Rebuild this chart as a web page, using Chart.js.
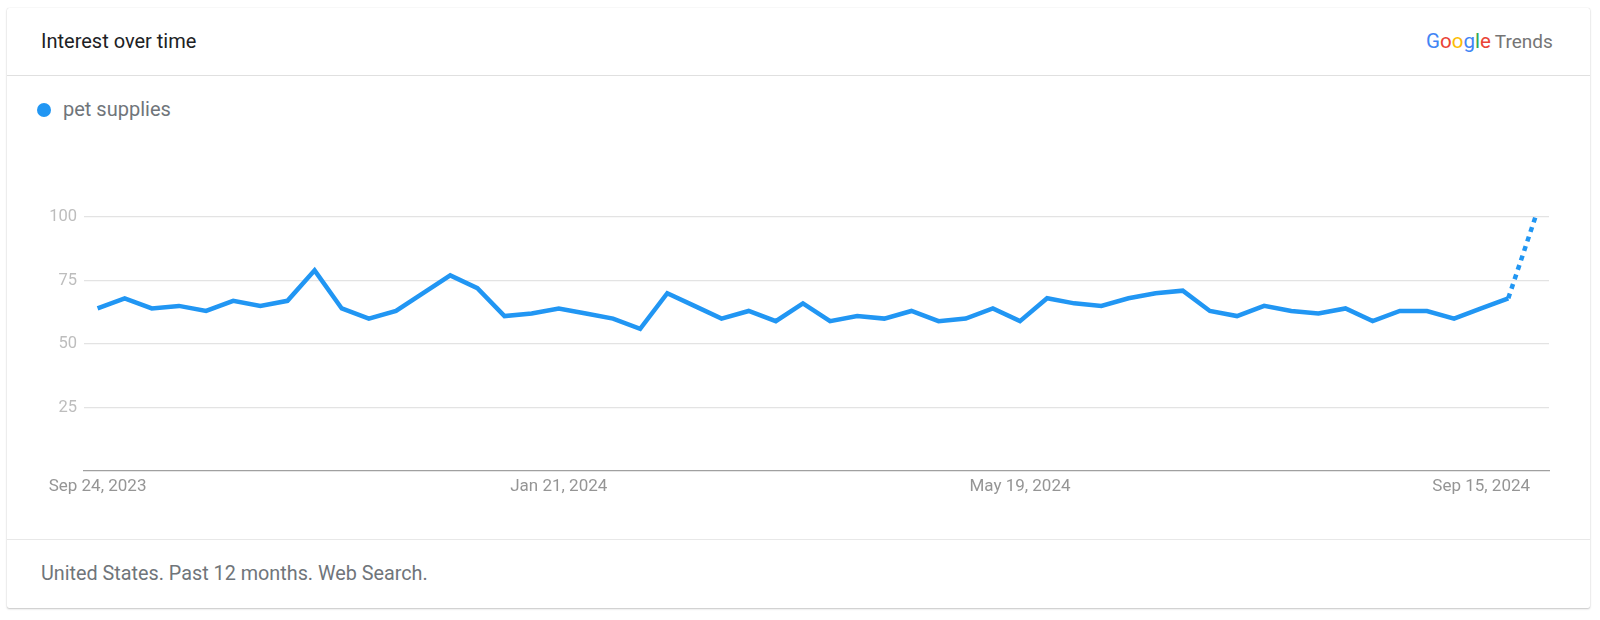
<!DOCTYPE html>
<html>
<head>
<meta charset="utf-8">
<script src="https://cdn.jsdelivr.net/npm/chart.js@4.4.1/dist/chart.umd.min.js"></script>
<style>
  html, body { margin: 0; padding: 0; background: #fff; width: 1600px; height: 620px; overflow: hidden; font-family: Roboto, "Noto Sans", Arial, sans-serif; }
  .card { position: absolute; left: 7px; top: 8px; width: 1583px; height: 600px; background: #fff; border-radius: 2px;
          box-shadow: 0 1px 2px rgba(0,0,0,0.22), 0 0 1px rgba(0,0,0,0.18); }
  .title { position: absolute; left: 41px; top: 29px; font-size: 20px; color: #202124; line-height: 24px; }
  .logo { position: absolute; left: 1426px; top: 29px; font-size: 20.5px; line-height: 24px; white-space: nowrap; }
  .logo .t { color: #757575; margin-left: 4px; font-size: 19px; }
  .div1 { position: absolute; left: 7px; width: 1583px; top: 75px; height: 1px; background: #e0e0e0; }
  .div2 { position: absolute; left: 7px; width: 1583px; top: 539px; height: 1px; background: #e8e8e8; }
  .legend { position: absolute; left: 37px; top: 97px; font-size: 20px; color: #70757a; line-height: 24px; }
  .legend .dot { display: inline-block; width: 14px; height: 14px; border-radius: 50%; background: #2196F3; vertical-align: -1px; margin-right: 12px; }
  .footer { position: absolute; left: 41px; top: 562px; font-size: 19.8px; color: #70757a; line-height: 24px; }
  #wrap { position: absolute; left: 0; top: 0; width: 1600px; height: 620px; }
</style>
</head>
<body>
<div class="card"></div>
<div class="title">Interest over time</div>
<div class="logo"><span style="color:#4285F4">G</span><span style="color:#EA4335">o</span><span style="color:#FBBC05">o</span><span style="color:#4285F4">g</span><span style="color:#34A853">l</span><span style="color:#EA4335">e</span><span class="t">Trends</span></div>
<div class="div1"></div>
<div class="legend"><span class="dot"></span>pet supplies</div>
<div class="div2"></div>
<div class="footer">United States. Past 12 months. Web Search.</div>
<div id="wrap"><canvas id="c"></canvas></div>
<script>
const seriesName = "pet supplies";
const weeks = [
  "Sep 24, 2023","Oct 1, 2023","Oct 8, 2023","Oct 15, 2023","Oct 22, 2023","Oct 29, 2023",
  "Nov 5, 2023","Nov 12, 2023","Nov 19, 2023","Nov 26, 2023","Dec 3, 2023","Dec 10, 2023",
  "Dec 17, 2023","Dec 24, 2023","Dec 31, 2023","Jan 7, 2024","Jan 14, 2024","Jan 21, 2024",
  "Jan 28, 2024","Feb 4, 2024","Feb 11, 2024","Feb 18, 2024","Feb 25, 2024","Mar 3, 2024",
  "Mar 10, 2024","Mar 17, 2024","Mar 24, 2024","Mar 31, 2024","Apr 7, 2024","Apr 14, 2024",
  "Apr 21, 2024","Apr 28, 2024","May 5, 2024","May 12, 2024","May 19, 2024","May 26, 2024",
  "Jun 2, 2024","Jun 9, 2024","Jun 16, 2024","Jun 23, 2024","Jun 30, 2024","Jul 7, 2024",
  "Jul 14, 2024","Jul 21, 2024","Jul 28, 2024","Aug 4, 2024","Aug 11, 2024","Aug 18, 2024",
  "Aug 25, 2024","Sep 1, 2024","Sep 8, 2024","Sep 15, 2024","Sep 22, 2024","Sep 29, 2024"
];
const interest = [
  64,68,64,65,63,67,65,67,79,64,
  60,63,70,77,72,61,62,64,62,60,
  56,70,65,60,63,59,66,59,61,60,
  63,59,60,64,59,68,66,65,68,70,
  71,63,61,65,63,62,64,59,63,63,
  60,64,68,100
];
const xTickLabels = ["Sep 24, 2023","Jan 21, 2024","May 19, 2024","Sep 15, 2024"];
const yTicks = [25, 50, 75, 100];
const partialFrom = interest.length - 1; // last point is partial data

const lineColor = "#2196F3";
new Chart(document.getElementById("c"), {
  type: "line",
  data: {
    labels: weeks,
    datasets: [{
      label: seriesName,
      data: interest,
      borderColor: lineColor,
      borderWidth: 4.5,
      pointRadius: 0,
      tension: 0,
      fill: false,
      clip: false,
      borderJoinStyle: "miter",
      segment: {
        borderDash: ctx => ctx.p1DataIndex >= partialFrom ? [5, 5] : undefined
      }
    }]
  },
  options: {
    responsive: true,
    maintainAspectRatio: false,
    animation: false,
    events: [],
    layout: { padding: { top: 217, right: 51, bottom: 119, left: 0 } },
    plugins: { legend: { display: false }, tooltip: { enabled: false } },
    scales: {
      x: {
        type: "category",
        offset: true,
        grid: { display: false, drawTicks: false },
        border: { display: true, color: "#a0a0a0", width: 1.3 },
        afterFit: s => { s.height = 30; },
        ticks: {
          autoSkip: false, maxRotation: 0, minRotation: 0, padding: 6,
          color: "#959595", font: { family: "Roboto", size: 17 },
          callback: function (v, i) { const l = this.getLabelForValue(v); return xTickLabels.includes(l) ? l : null; }
        }
      },
      y: {
        min: 0, max: 100,
        afterFit: s => { s.width = 84; },
        afterBuildTicks: s => { s.ticks = [0].concat(yTicks).map(v => ({ value: v })); },
        border: { display: false },
        grid: { drawTicks: false, color: ctx => ctx.tick && ctx.tick.value === 0 ? "rgba(0,0,0,0)" : "#e3e3e3", lineWidth: 1.3 },
        ticks: {
          padding: 7, color: "#bdbdbd", font: { family: "Roboto", size: 16.5 },
          callback: v => v === 0 ? null : String(v)
        }
      }
    }
  }
});
</script>
</body>
</html>
